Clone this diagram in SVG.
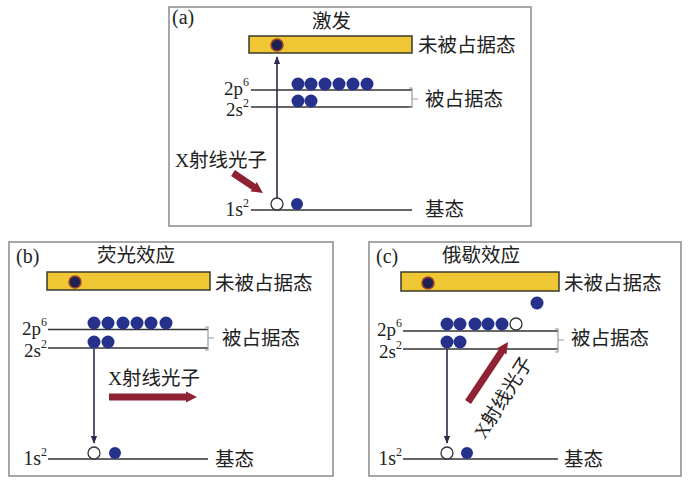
<svg xmlns="http://www.w3.org/2000/svg" width="695" height="487" viewBox="0 0 695 487">
<style>
.panel{fill:#fff;stroke:#8a8a8a;stroke-width:1.5}
.bar{fill:#efc634;stroke:#3a3a2a;stroke-width:1.5}
.lvl{stroke:#333;stroke-width:1.6;fill:none}
.br{stroke:#999;stroke-width:1.2;fill:none}
.e{fill:#26318c}
.eb{fill:#1f2250;stroke:#a0442a;stroke-width:1.5}
.h{fill:#fff;stroke:#333;stroke-width:1.3}
.t{font-family:"Liberation Serif","Noto Sans CJK SC",serif;font-size:20px;fill:#222}
.lb{font-family:"Liberation Serif","Noto Sans CJK SC",serif;font-size:19px;fill:#222}
.cn{font-family:"Liberation Serif","Noto Sans CJK SC",serif;font-size:19.5px;fill:#222}
.trans{stroke:#2a2a4a;stroke-width:1.6;fill:none;marker-end:url(#ah)}
.ray{stroke:#8e2232;stroke-width:7;fill:none;marker-end:url(#rh)}
</style>
<defs>
<marker id="ah" viewBox="0 0 10 10" refX="9" refY="5" markerWidth="5" markerHeight="5" orient="auto" markerUnits="strokeWidth"><path d="M0,1 L10,5 L0,9 z" fill="#2a2a4a"/></marker>
<marker id="rh" viewBox="0 0 10 10" refX="2" refY="5" markerWidth="1.6" markerHeight="1.8" orient="auto" markerUnits="strokeWidth"><path d="M0,0 L10,5 L0,10 z" fill="#8e2232"/></marker>
</defs>
<rect width="695" height="487" fill="#fff"/>

<g id="panel-a">
<rect class="panel" x="169" y="7" width="362" height="219"/>
<text class="t" x="172" y="24" font-size="19">(a)</text>
<text class="cn" x="312" y="28">激发</text>
<rect class="bar" x="249" y="36" width="163" height="17"/>
<text class="cn" x="418" y="52">未被占据态</text>
<line class="lvl" x1="251" y1="90" x2="412" y2="90"/>
<line class="lvl" x1="251" y1="107" x2="412" y2="107"/>
<path class="br" d="M409,88 h3 v19.5 h-3 M412,99 h6"/>
<text class="cn" x="425" y="106">被占据态</text>
<text class="lb" x="249" y="95" text-anchor="end">2p<tspan font-size="12" dy="-9">6</tspan></text>
<text class="lb" x="249" y="116" text-anchor="end">2s<tspan font-size="12" dy="-9">2</tspan></text>
<circle class="e" cx="298" cy="84" r="6.5"/><circle class="e" cx="311" cy="84" r="6.5"/><circle class="e" cx="325" cy="84" r="6.5"/><circle class="e" cx="339" cy="84" r="6.5"/><circle class="e" cx="353" cy="84" r="6.5"/><circle class="e" cx="367" cy="84" r="6.5"/>
<circle class="e" cx="298" cy="101" r="6.5"/><circle class="e" cx="311" cy="101" r="6.5"/>
<line class="lvl" x1="251" y1="210" x2="412" y2="210"/>
<text class="t" x="249" y="216" text-anchor="end">1s<tspan font-size="12" dy="-9">2</tspan></text>
<text class="cn" x="425" y="216">基态</text>
<circle class="h" cx="277" cy="204" r="6"/>
<circle class="e" cx="297" cy="204" r="6"/>
<circle class="eb" cx="277" cy="45" r="6"/>
<text class="cn" x="175" y="167">X射线光子</text>
</g>

<g id="panel-b">
<rect class="panel" x="9" y="242" width="324" height="234"/>
<text class="t" x="16" y="263" font-size="19">(b)</text>
<text class="cn" x="97" y="262">荧光效应</text>
<rect class="bar" x="47" y="272" width="163" height="18"/>
<text class="cn" x="215" y="290">未被占据态</text>
<line class="lvl" x1="48" y1="329.5" x2="208" y2="329.5"/>
<line class="lvl" x1="48" y1="348" x2="208" y2="348"/>
<path class="br" d="M205,327 h3 v23 h-3 M208,338 h6"/>
<text class="cn" x="222" y="345">被占据态</text>
<text class="lb" x="47" y="335" text-anchor="end">2p<tspan font-size="12" dy="-9">6</tspan></text>
<text class="lb" x="47" y="357" text-anchor="end">2s<tspan font-size="12" dy="-9">2</tspan></text>
<circle class="e" cx="94" cy="323" r="6.5"/><circle class="e" cx="108" cy="323" r="6.5"/><circle class="e" cx="123" cy="323" r="6.5"/><circle class="e" cx="137" cy="323" r="6.5"/><circle class="e" cx="151" cy="323" r="6.5"/><circle class="e" cx="166" cy="323" r="6.5"/>
<circle class="e" cx="94" cy="342" r="6.5"/><circle class="e" cx="108" cy="342" r="6.5"/>
<line class="lvl" x1="48" y1="459" x2="208" y2="459"/>
<text class="t" x="47" y="465" text-anchor="end">1s<tspan font-size="12" dy="-9">2</tspan></text>
<text class="cn" x="215" y="466">基态</text>
<circle class="h" cx="94" cy="453" r="6"/>
<circle class="e" cx="115" cy="453" r="6"/>
<circle class="eb" cx="75" cy="282" r="6"/>
<text class="cn" x="108" y="385">X射线光子</text>
</g>

<g id="panel-c">
<rect class="panel" x="369" y="242" width="312" height="234"/>
<text class="t" x="376" y="263" font-size="19">(c)</text>
<text class="cn" x="442" y="262">俄歇效应</text>
<rect class="bar" x="401" y="272" width="158" height="19"/>
<text class="cn" x="564" y="290">未被占据态</text>
<circle class="e" cx="537" cy="303" r="6.5"/>
<line class="lvl" x1="403" y1="331" x2="558" y2="331"/>
<line class="lvl" x1="403" y1="349" x2="558" y2="349"/>
<path class="br" d="M555,329 h3 v23 h-3 M558,340 h6"/>
<text class="cn" x="571" y="345">被占据态</text>
<text class="lb" x="402" y="336" text-anchor="end">2p<tspan font-size="12" dy="-9">6</tspan></text>
<text class="lb" x="402" y="358" text-anchor="end">2s<tspan font-size="12" dy="-9">2</tspan></text>
<circle class="e" cx="447" cy="324" r="6.5"/><circle class="e" cx="460" cy="324" r="6.5"/><circle class="e" cx="475" cy="324" r="6.5"/><circle class="e" cx="488" cy="324" r="6.5"/><circle class="e" cx="502" cy="324" r="6.5"/>
<circle class="h" cx="516" cy="324" r="6"/>
<circle class="e" cx="447" cy="342" r="6.5"/><circle class="e" cx="460" cy="342" r="6.5"/>
<line class="lvl" x1="403" y1="459" x2="558" y2="459"/>
<text class="t" x="402" y="465" text-anchor="end">1s<tspan font-size="12" dy="-9">2</tspan></text>
<text class="cn" x="564" y="466">基态</text>
<circle class="h" cx="447" cy="453" r="6"/>
<circle class="e" cx="467" cy="453" r="6"/>
<circle class="eb" cx="428" cy="283" r="6"/>
<text class="cn" x="509" y="401" text-anchor="middle" transform="rotate(-58 509 401)">X射线光子</text>
</g>

<g id="connectors">
<line class="trans" x1="277" y1="198" x2="277" y2="57"/>
<line class="trans" x1="94" y1="349" x2="94" y2="443"/>
<line class="trans" x1="447" y1="349" x2="447" y2="443"/>
<line class="ray" x1="233" y1="173" x2="255.5" y2="188"/>
<line class="ray" x1="109" y1="397" x2="188" y2="397"/>
<line class="ray" x1="468" y1="402" x2="503" y2="349.5"/>
</g>
</svg>
